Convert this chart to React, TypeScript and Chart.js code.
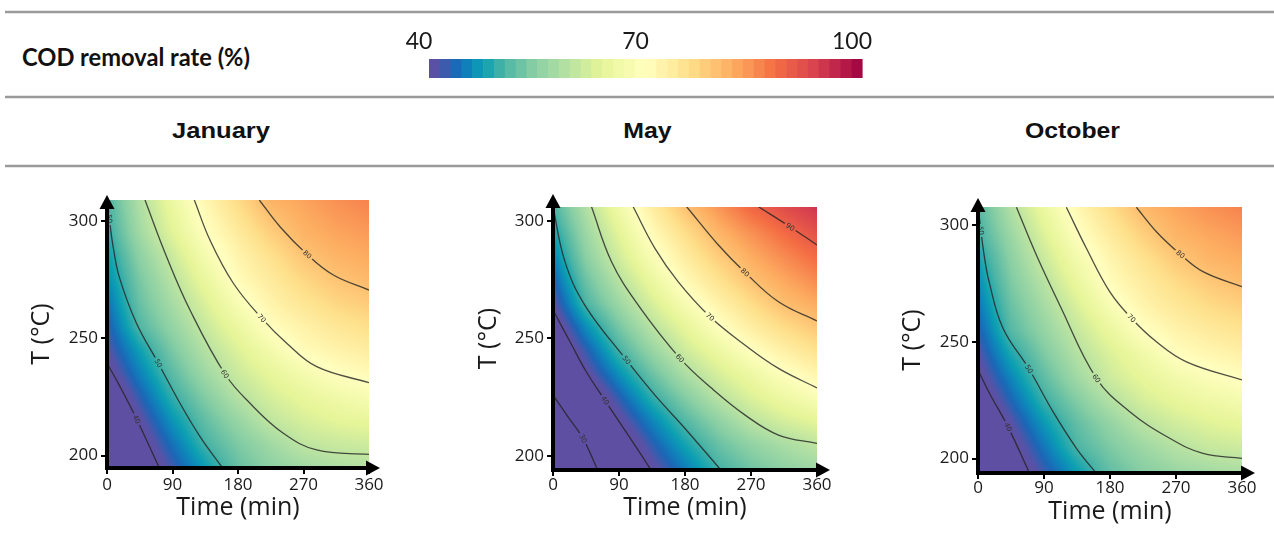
import React, { useEffect, useRef } from "react";
import { Chart, registerables } from "chart.js";

Chart.register(...registerables);

// ---------------- data ----------------
const TIME_TICKS = [0, 90, 180, 270, 360];
const TEMP_TICKS = [200, 250, 300];
const CBAR_TICKS = [40, 70, 100];
const GRID_TIMES = [0, 45, 90, 135, 180, 225, 270, 315, 360];
const GRID_TEMPS = [195, 205, 215, 225, 235, 245, 255, 265, 275, 285, 295, 305];

// COD removal rate (%) at GRID_TEMPS (rows) x GRID_TIMES (columns)
const JAN_VALUES = [
  [32, 36.9, 42.1, 47.3, 52.2, 55, 57, 58.3, 59],
  [33, 38.5, 44.3, 50, 53.8, 57, 60, 61, 61.5],
  [34, 40.5, 46.7, 51.9, 56.1, 60.2, 62.5, 63.9, 64.7],
  [36, 42.8, 49.2, 54.2, 59, 62.3, 64.6, 66.5, 68],
  [38.9, 45.3, 51.4, 56.8, 61.2, 64.5, 67.3, 69.8, 71],
  [40.9, 47.5, 53.6, 58.9, 63.1, 67.1, 70.7, 72.4, 73.5],
  [42.5, 50.7, 55.8, 60.9, 65.5, 70.1, 72.6, 74.6, 76],
  [44.1, 52.3, 57.6, 62.9, 68.2, 72.3, 74.9, 77.1, 78.6],
  [45.7, 53.5, 59.3, 65.2, 70.6, 74, 77, 79.4, 80.7],
  [47, 55.1, 61.2, 67.4, 72.1, 75.7, 79.3, 81.3, 82.3],
  [48.8, 57, 63.6, 69.6, 73.9, 78.1, 81.4, 82.8, 83.8],
  [49.8, 58.1, 65, 71.1, 75.8, 80.5, 82.5, 84.2, 85.4],
];
const MAY_VALUES = [
  [21.5, 28, 34.2, 40.4, 45.1, 49.9, 53, 55.3, 57],
  [23.5, 29.8, 36.8, 42.8, 47.9, 52.3, 55.5, 58, 59.9],
  [26.5, 33, 40, 45.6, 50.9, 55.3, 59.6, 62.3, 64.1],
  [29.7, 36.4, 42.9, 49.1, 54.3, 59.3, 63, 66, 68.4],
  [33, 40, 46.4, 52.5, 58.1, 62.4, 65.9, 69.5, 72.1],
  [35.4, 42.7, 50, 56.1, 61.5, 65.7, 69.9, 73, 75.6],
  [37.9, 46.2, 53.3, 59.4, 64.4, 69.4, 73.3, 76.5, 79.2],
  [40.7, 50.4, 56.6, 62.5, 67.9, 72.4, 76.4, 80.2, 82.3],
  [43, 52.6, 59.3, 65.4, 71.1, 75.4, 79.7, 82.6, 85.4],
  [45.3, 54.9, 61.9, 68.3, 73.6, 78.3, 82.1, 85.3, 88.5],
  [47.7, 56.5, 63.9, 70.8, 76.2, 81.1, 84.7, 88.3, 91.6],
  [50, 58.4, 66.3, 73.2, 79.3, 83.9, 88.4, 91.8, 94.7],
];
const OCT_VALUES = [
  [32.5, 37.4, 42.4, 47.4, 52, 54.6, 56.4, 57.5, 58.3],
  [33.2, 38.9, 44.6, 50.4, 53.8, 56.7, 59.1, 60.8, 61.5],
  [34.8, 40.9, 46.9, 51.9, 55.7, 59.5, 61.8, 63.4, 64.4],
  [37.2, 43.4, 49.5, 54.2, 58.8, 62.3, 64.5, 66.2, 67.4],
  [39.4, 45.7, 51.7, 57, 61.5, 64.5, 67, 68.9, 70.3],
  [41.1, 48.2, 53.8, 58.9, 62.9, 66.5, 70.2, 71.7, 72.8],
  [42.7, 51, 55.8, 60.6, 65.2, 69.8, 72.2, 74, 75.3],
  [44.3, 52.3, 57.4, 62.6, 68, 72, 74.4, 76.4, 77.8],
  [45.9, 53.7, 59.1, 64.9, 70.4, 73.6, 76.4, 78.6, 80.2],
  [47.5, 54.9, 61, 67, 71.8, 75.3, 78.7, 81, 82],
  [49.5, 56.3, 62.9, 69.3, 73.6, 77.7, 81.1, 82.5, 83.7],
  [50.6, 58.1, 64.9, 71, 75.6, 80.1, 82.5, 84.2, 85.5],
];

// contour lines: [time (min), T (°C)]
const JAN_C40 = [[0, 239.4], [17.9, 229.4], [40.8, 215.5], [71.9, 194.7]];
const JAN_C50 = [[0.5, 309], [4, 299], [9, 288], [17, 276], [40, 256.8], [70.5, 239.4], [100.3, 222.3], [127.8, 208.1], [158.9, 194.7]];
const JAN_C60 = [[52.2, 309], [81.9, 284.8], [114, 262.1], [162.1, 234.8], [196.5, 222.3], [242.3, 209.5], [288.1, 202.4], [360, 200.5]];
const JAN_C70 = [[120, 309], [141.5, 291.9], [173.6, 273.5], [212.5, 258.6], [246.9, 247.9], [288.1, 237.9], [360, 231.1]];
const JAN_C80 = [[209.3, 309], [237.7, 297.6], [275.2, 285.7], [311, 277], [360, 270.6]];
const JAN_LABELS = [[40, 40.8, 215.5], [50, 3.3, 301], [50, 70.5, 239.4], [60, 162.1, 234.8], [70, 212.5, 258.6], [80, 275.2, 285.7]];

const MAY_C30 = [[0, 225.8], [20, 216.8], [41, 207.3], [61.5, 193.5]];
const MAY_C40 = [[0, 262.1], [25, 247.5], [45, 236], [71, 223.5], [102.5, 208.8], [134.5, 193.5]];
const MAY_C50 = [[0, 306.1], [16.3, 282.7], [43.3, 264.2], [100.3, 240.7], [139, 225.8], [180, 211.6], [230, 193.5]];
const MAY_C60 = [[52.5, 306.1], [79.8, 282.7], [116.2, 264.2], [173.2, 241.5], [216.5, 228.7], [262, 217.3], [307.5, 208.8], [360, 205.2]];
const MAY_C70 = [[109.3, 306.1], [139, 288.4], [170.8, 274.1], [214.2, 259.2], [262, 247.1], [307.5, 237.2], [360, 228.9]];
const MAY_C80 = [[182.3, 306.1], [225.5, 289.8], [262, 278.1], [307.5, 265.6], [360, 257.4]];
const MAY_C90 = [[280.2, 306.1], [323.5, 297.5], [360, 289.8]];
const MAY_LABELS = [[30, 41, 207.3], [40, 71, 223.5], [50, 100.3, 240.7], [60, 173.2, 241.5], [70, 214.2, 259.2], [80, 262, 278.1], [90, 323.5, 297.5]];

const OCT_C40 = [[0, 238], [16, 227.8], [40.9, 213.6], [70.5, 193.6]];
const OCT_C50 = [[0.3, 307.8], [3.5, 299], [8, 288], [15, 276], [34.1, 255.9], [69.6, 238.4], [102.3, 220.1], [134.2, 204.4], [161.5, 193.6]];
const OCT_C60 = [[52.4, 307.8], [79.6, 287.3], [111.4, 265.9], [161.5, 234.4], [206.9, 220.1], [261.4, 208.7], [306.8, 202.2], [360, 200.1]];
const OCT_C70 = [[120.5, 307.8], [147.8, 290.2], [179.6, 271.6], [209.2, 260.2], [243.3, 250.1], [284.2, 241.5], [360, 233.7]];
const OCT_C80 = [[216, 307.8], [243.3, 297.3], [276, 287.6], [306.8, 280.2], [360, 273.7]];
const OCT_LABELS = [[40, 40.9, 213.6], [50, 4, 297.8], [50, 69.6, 238.4], [60, 161.5, 234.4], [70, 209.2, 260.2], [80, 276, 287.6]];

// ---------------- styles ----------------
const CMAP_STOPS = [
  [40, 94, 79, 162],
  [41.2, 88, 82, 166],
  [43.5, 28, 102, 182],
  [45.5, 14, 132, 186],
  [47.5, 12, 160, 178],
  [50.5, 78, 181, 165],
  [54.5, 135, 206, 164],
  [58, 171, 221, 164],
  [64, 230, 245, 152],
  [70, 255, 255, 191],
  [76, 254, 224, 139],
  [82, 253, 174, 97],
  [88, 244, 109, 67],
  [94, 213, 62, 79],
  [100, 158, 1, 66],
];

function colorFor(v: number): number[] {
  const s = CMAP_STOPS;
  if (v <= s[0][0]) return [s[0][1], s[0][2], s[0][3]];
  const last = s[s.length - 1];
  if (v >= last[0]) return [last[1], last[2], last[3]];
  for (let i = 0; i < s.length - 1; i++) {
    const a = s[i], b = s[i + 1];
    if (v >= a[0] && v <= b[0]) {
      const f = (v - a[0]) / (b[0] - a[0]);
      return [a[1] + (b[1] - a[1]) * f, a[2] + (b[2] - a[2]) * f, a[3] + (b[3] - a[3]) * f];
    }
  }
  return [0, 0, 0];
}

function locate(arr: number[], v: number): [number, number] {
  let i = 0;
  while (i < arr.length - 2 && v > arr[i + 1]) i++;
  let f = (v - arr[i]) / (arr[i + 1] - arr[i]);
  if (f < -0.6) f = -0.6;
  if (f > 1.6) f = 1.6;
  return [i, f];
}

function valueAt(values: number[][], t: number, T: number) {
  const [i, u] = locate(GRID_TIMES, t);
  const [j, w] = locate(GRID_TEMPS, T);
  const a = values[j][i], b = values[j][i + 1], c = values[j + 1][i], d = values[j + 1][i + 1];
  return (a * (1 - u) + b * u) * (1 - w) + (c * (1 - u) + d * u) * w;
}

const PANELS = [
  {
    key: "jan", canvasLeft: 0, canvasWidth: 400,
    area: { left: 107, right: 369, top: 200, bottom: 468 },
    yMin: 194.7, yMax: 309, yTitleX: 42, xTitleY: 508, xTickPad: 1, arrowUp: 5, arrowRight: 11,
    values: JAN_VALUES,
    contours: [[40, JAN_C40], [50, JAN_C50], [60, JAN_C60], [70, JAN_C70], [80, JAN_C80]],
    labels: JAN_LABELS,
  },
  {
    key: "may", canvasLeft: 440, canvasWidth: 410,
    area: { left: 553, right: 817, top: 207, bottom: 470 },
    yMin: 193.9, yMax: 306, yTitleX: 489, xTitleY: 508, xTickPad: -1, arrowUp: 13, arrowRight: 13,
    values: MAY_VALUES,
    contours: [[30, MAY_C30], [40, MAY_C40], [50, MAY_C50], [60, MAY_C60], [70, MAY_C70], [80, MAY_C80], [90, MAY_C90]],
    labels: MAY_LABELS,
  },
  {
    key: "oct", canvasLeft: 870, canvasWidth: 404,
    area: { left: 978, right: 1242, top: 207, bottom: 473 },
    yMin: 193.8, yMax: 307.9, yTitleX: 913, xTitleY: 512, xTickPad: -1, arrowUp: 9, arrowRight: 13,
    values: OCT_VALUES,
    contours: [[40, OCT_C40], [50, OCT_C50], [60, OCT_C60], [70, OCT_C70], [80, OCT_C80]],
    labels: OCT_LABELS,
  },
];

const PANEL_TOP = 170;
const PANEL_H = 370;
const XAXIS_H = 60;
const TICK_FONT = { family: "'Open Sans', sans-serif", size: 17 };
const TITLE_FONT = { family: "'Open Sans', sans-serif", size: 25 };

function Panel({ cfg }: { cfg: any }) {
  const ref = useRef<HTMLCanvasElement>(null);
  useEffect(() => {
    const canvas = ref.current as HTMLCanvasElement;
    const a = cfg.area;
    let heat: HTMLCanvasElement | null = null;

    const plugin = {
      id: "contourPanel",
      beforeDatasetsDraw(chart: any) {
        const { ctx, chartArea: ca, scales } = chart;
        const xs = scales.x, ys = scales.y;
        const cw = ca.right - ca.left, ch = ca.bottom - ca.top;
        const w = Math.round(cw), h = Math.round(ch);
        heat = document.createElement("canvas");
        heat.width = w;
        heat.height = h;
        const hc = heat.getContext("2d") as CanvasRenderingContext2D;
        const img = hc.createImageData(w, h);
        for (let py = 0; py < h; py++) {
          const T = ys.getValueForPixel(ca.top + ((py + 0.5) * ch) / h);
          for (let px = 0; px < w; px++) {
            const t = xs.getValueForPixel(ca.left + ((px + 0.5) * cw) / w);
            const c = colorFor(valueAt(cfg.values, t, T));
            const k = (py * w + px) * 4;
            img.data[k] = c[0];
            img.data[k + 1] = c[1];
            img.data[k + 2] = c[2];
            img.data[k + 3] = 255;
          }
        }
        hc.putImageData(img, 0, 0);
        ctx.drawImage(heat, ca.left, ca.top, cw, ch);
      },
      afterDatasetsDraw(chart: any) {
        const { ctx, chartArea: ca, scales } = chart;
        const xs = scales.x, ys = scales.y;
        const cw = ca.right - ca.left, ch = ca.bottom - ca.top;
        cfg.labels.forEach((lab: number[]) => {
          const [level, t, T] = lab;
          const px = xs.getPixelForValue(t), py = ys.getPixelForValue(T);
          const cont = cfg.contours.find((c: any) => c[0] === level);
          const pts = cont[1].map((p: number[]) => [xs.getPixelForValue(p[0]), ys.getPixelForValue(p[1])]);
          let best = 0, bd = Infinity;
          pts.forEach((p: number[], i: number) => {
            const d = (p[0] - px) ** 2 + (p[1] - py) ** 2;
            if (d < bd) { bd = d; best = i; }
          });
          const i0 = Math.max(0, best - 1), i1 = Math.min(pts.length - 1, best + 1);
          let ang = Math.atan2(pts[i1][1] - pts[i0][1], pts[i1][0] - pts[i0][0]);
          if (ang > Math.PI / 2) ang -= Math.PI;
          if (ang < -Math.PI / 2) ang += Math.PI;
          if (heat) {
            ctx.save();
            ctx.translate(px, py);
            ctx.rotate(ang);
            ctx.beginPath();
            ctx.rect(-6.5, -4, 13, 8);
            ctx.rotate(-ang);
            ctx.translate(-px, -py);
            ctx.clip();
            ctx.drawImage(heat, ca.left, ca.top, cw, ch);
            ctx.restore();
          }
          ctx.save();
          ctx.translate(px, py);
          ctx.rotate(ang);
          ctx.font = "7px 'DejaVu Sans', sans-serif";
          ctx.fillStyle = "#333";
          ctx.textAlign = "center";
          ctx.textBaseline = "middle";
          ctx.fillText(String(level), 0, 0.5);
          ctx.restore();
        });
      },
      afterDraw(chart: any) {
        const { ctx, chartArea: ca } = chart;
        const L = ca.left, B = ca.bottom;
        const tipY = ca.top - cfg.arrowUp, tipX = ca.right + cfg.arrowRight;
        const HL = 14, HW = 7.5;
        ctx.save();
        ctx.strokeStyle = "#000";
        ctx.fillStyle = "#000";
        ctx.lineWidth = 4;
        ctx.beginPath();
        ctx.moveTo(L, B + 2);
        ctx.lineTo(L, tipY + HL - 1);
        ctx.stroke();
        ctx.beginPath();
        ctx.moveTo(L - 2, B);
        ctx.lineTo(tipX - HL + 1, B);
        ctx.stroke();
        ctx.beginPath();
        ctx.moveTo(L, tipY);
        ctx.lineTo(L - HW, tipY + HL);
        ctx.lineTo(L + HW, tipY + HL);
        ctx.closePath();
        ctx.fill();
        ctx.beginPath();
        ctx.moveTo(tipX, B);
        ctx.lineTo(tipX - HL, B - HW);
        ctx.lineTo(tipX - HL, B + HW);
        ctx.closePath();
        ctx.fill();
        ctx.restore();
      },
    };

    const yAxisW = a.left - cfg.canvasLeft;
    const padTop = a.top - PANEL_TOP;
    const padRight = cfg.canvasLeft + cfg.canvasWidth - a.right;
    const padBottom = PANEL_H - (a.bottom - PANEL_TOP) - XAXIS_H;
    const xTitlePadBottom = a.bottom + XAXIS_H - 15 - cfg.xTitleY;
    const yTitlePadTop = cfg.yTitleX - cfg.canvasLeft - 15;

    const grid = {
      display: true,
      drawOnChartArea: false,
      drawTicks: true,
      tickLength: 6,
      tickWidth: 2,
      tickColor: "#000",
      color: "#000",
      lineWidth: 2,
    };

    const chart = new Chart(canvas, {
      type: "line",
      data: {
        datasets: cfg.contours.map((c: any) => ({
          label: String(c[0]),
          data: c[1].map((p: number[]) => ({ x: p[0], y: p[1] })),
          borderColor: "rgba(35,35,35,0.8)",
          borderWidth: 1.3,
          pointRadius: 0,
          fill: false,
          tension: 0.4,
        })),
      },
      options: {
        responsive: false,
        animation: false,
        events: [],
        layout: { padding: { left: 0, top: padTop, right: padRight, bottom: padBottom } },
        plugins: { legend: { display: false }, tooltip: { enabled: false } },
        scales: {
          x: {
            type: "linear",
            min: TIME_TICKS[0],
            max: TIME_TICKS[TIME_TICKS.length - 1],
            afterBuildTicks: (s: any) => { s.ticks = TIME_TICKS.map((v) => ({ value: v })); },
            afterFit: (s: any) => { s.height = XAXIS_H; },
            grid,
            border: { display: false },
            ticks: { padding: cfg.xTickPad, color: "#1a1a1a", font: TICK_FONT, maxRotation: 0, autoSkip: false },
            title: { display: true, text: "Time (min)", color: "#1a1a1a", font: TITLE_FONT, padding: { top: 0, bottom: xTitlePadBottom } },
          },
          y: {
            type: "linear",
            min: cfg.yMin,
            max: cfg.yMax,
            afterBuildTicks: (s: any) => { s.ticks = TEMP_TICKS.map((v) => ({ value: v })); },
            afterFit: (s: any) => { s.width = yAxisW; },
            grid,
            border: { display: false },
            ticks: { padding: 3, color: "#1a1a1a", font: TICK_FONT, autoSkip: false },
            title: { display: true, text: "T (°C)", color: "#1a1a1a", font: TITLE_FONT, padding: { top: yTitlePadTop, bottom: 0 } },
          },
        },
      },
      plugins: [plugin],
    } as any);
    return () => chart.destroy();
  }, []);
  return (
    <canvas
      ref={ref}
      width={cfg.canvasWidth}
      height={PANEL_H}
      style={{ position: "absolute", left: cfg.canvasLeft, top: PANEL_TOP }}
    />
  );
}

function ColorBar() {
  const ref = useRef<HTMLCanvasElement>(null);
  useEffect(() => {
    const canvas = ref.current as HTMLCanvasElement;
    const plugin = {
      id: "cbar",
      beforeDatasetsDraw(chart: any) {
        const { ctx, chartArea: ca, scales } = chart;
        const xs = scales.x;
        const lo = CBAR_TICKS[0], hi = CBAR_TICKS[CBAR_TICKS.length - 1];
        const n = 40;
        for (let i = 0; i < n; i++) {
          const v0 = lo + ((hi - lo) * i) / n, v1 = lo + ((hi - lo) * (i + 1)) / n;
          const c = colorFor((v0 + v1) / 2);
          ctx.fillStyle = `rgb(${Math.round(c[0])},${Math.round(c[1])},${Math.round(c[2])})`;
          const x0 = xs.getPixelForValue(v0), x1 = xs.getPixelForValue(v1);
          ctx.fillRect(x0, ca.top, x1 - x0 + 0.6, ca.bottom - ca.top);
        }
      },
    };
    const chart = new Chart(canvas, {
      type: "scatter",
      data: { datasets: [{ data: [], pointRadius: 0 }] },
      options: {
        responsive: false,
        animation: false,
        events: [],
        layout: { padding: { left: 49, right: 38, top: 0, bottom: 12 } },
        plugins: { legend: { display: false }, tooltip: { enabled: false } },
        scales: {
          x: {
            type: "linear",
            position: "top",
            min: CBAR_TICKS[0],
            max: CBAR_TICKS[CBAR_TICKS.length - 1],
            afterBuildTicks: (s: any) => { s.ticks = CBAR_TICKS.map((v) => ({ value: v })); },
            afterFit: (s: any) => { s.height = 39; },
            grid: { display: false, drawTicks: false },
            border: { display: false },
            ticks: { padding: 4, labelOffset: -10, color: "#1a1a1a", font: { family: "Lato, sans-serif", size: 23 }, maxRotation: 0, autoSkip: false },
          },
          y: { display: false, min: 0, max: 1 },
        },
      },
      plugins: [plugin],
    } as any);
    return () => chart.destroy();
  }, []);
  return <canvas ref={ref} width={520} height={70} style={{ position: "absolute", left: 380, top: 20 }} />;
}

export default function App() {
  return (
    <div style={{ position: "absolute", left: 0, top: 0, width: 1274, height: 540, background: "#fff", overflow: "hidden" }}>
      <svg width={1274} height={540} style={{ position: "absolute", left: 0, top: 0 }}>
        <line x1={5} y1={12} x2={1274} y2={12} stroke="#9a9a9a" strokeWidth={2.5} />
        <line x1={5} y1={97} x2={1274} y2={97} stroke="#9a9a9a" strokeWidth={2.5} />
        <line x1={5} y1={166} x2={1274} y2={166} stroke="#9a9a9a" strokeWidth={2.5} />
        <text x={22} y={66} fontFamily="Lato, sans-serif" fontWeight={700} fontSize={24} textLength={228} lengthAdjust="spacingAndGlyphs" fill="#111">
          COD removal rate (%)
        </text>
        <text x={221} y={137.5} textAnchor="middle" fontFamily="'Liberation Sans', Arial, sans-serif" fontWeight={700} fontSize={22.5} textLength={98} lengthAdjust="spacingAndGlyphs" fill="#111">
          January
        </text>
        <text x={647.5} y={137.5} textAnchor="middle" fontFamily="'Liberation Sans', Arial, sans-serif" fontWeight={700} fontSize={22.5} textLength={48.5} lengthAdjust="spacingAndGlyphs" fill="#111">
          May
        </text>
        <text x={1072.5} y={137.5} textAnchor="middle" fontFamily="'Liberation Sans', Arial, sans-serif" fontWeight={700} fontSize={22.5} textLength={95} lengthAdjust="spacingAndGlyphs" fill="#111">
          October
        </text>
      </svg>
      <ColorBar />
      {PANELS.map((p) => (
        <Panel key={p.key} cfg={p} />
      ))}
    </div>
  );
}
